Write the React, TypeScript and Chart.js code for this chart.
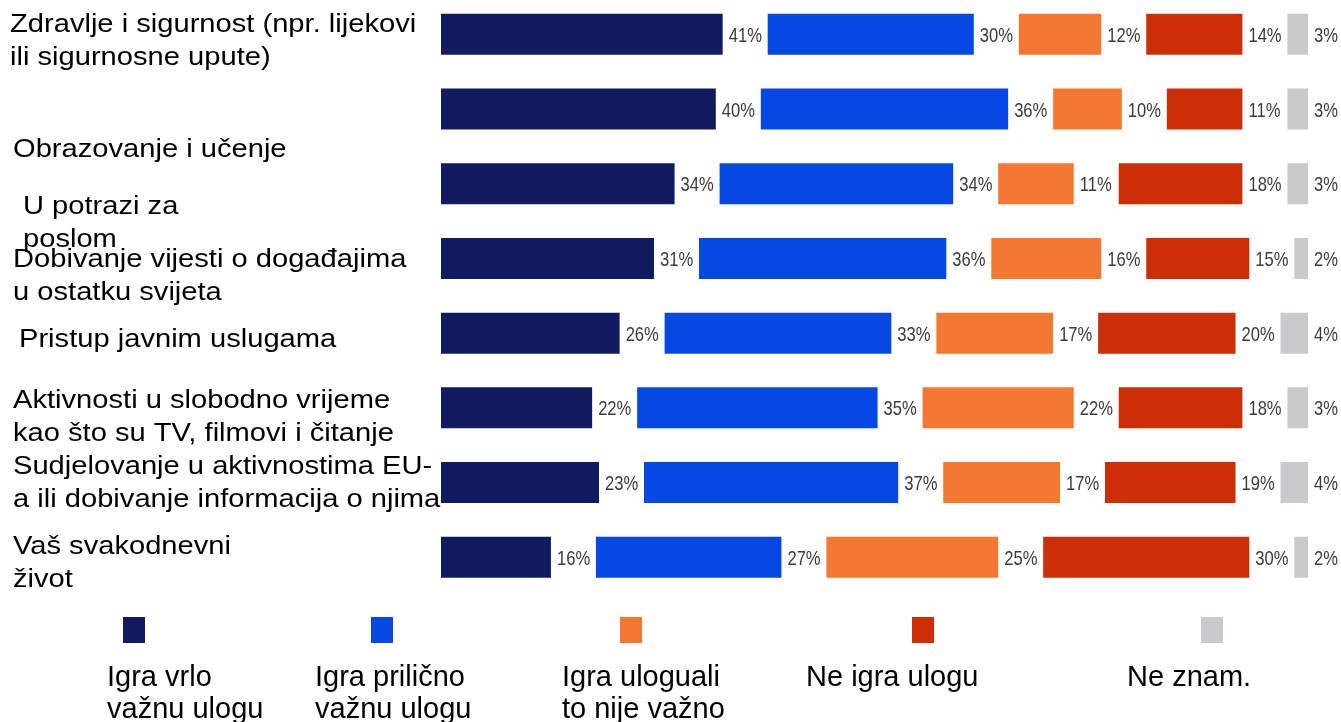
import React, { useEffect, useRef } from "react";
import { Chart, registerables } from "chart.js";

Chart.register(...registerables);

const categories: string[][] = [
  ["Zdravlje i sigurnost (npr. lijekovi", "ili sigurnosne upute)"],
  ["Obrazovanje i učenje"],
  ["U potrazi za", "poslom"],
  ["Dobivanje vijesti o događajima", "u ostatku svijeta"],
  ["Pristup javnim uslugama"],
  ["Aktivnosti u slobodno vrijeme", "kao što su TV, filmovi i čitanje"],
  ["Sudjelovanje u aktivnostima EU-", "a ili dobivanje informacija o njima"],
  ["Vaš svakodnevni", "život"],
];

const vrloVazna = [41, 40, 34, 31, 26, 22, 23, 16];
const prilicnoVazna = [30, 36, 34, 36, 33, 35, 37, 27];
const nijeVazno = [12, 10, 11, 16, 17, 22, 17, 25];
const neIgra = [14, 11, 18, 15, 20, 18, 19, 30];
const neZnam = [3, 3, 3, 2, 4, 3, 4, 2];

const seriesNames: string[][] = [
  ["Igra vrlo", "važnu ulogu"],
  ["Igra prilično", "važnu ulogu"],
  ["Igra uloguali", "to nije važno"],
  ["Ne igra ulogu"],
  ["Ne znam."],
];

// styling / layout (not data)
const COLORS = ["#111c60", "#0848e2", "#f47832", "#cc2e07", "#c9cacc"];
const GAP = 6.55; // spacer between segments (in axis units) where value labels sit
const SHIFT = 3; // canvas is placed 3px above the page top
const LABEL_X = [10, 13, 23, 13, 19, 13, 13, 13];
const LABEL_DY = [-2, 48, 30, 9, 14, 0, -9, -3];
const LEGEND_SQUARE_X = [123, 371, 620, 912, 1201];
const LEGEND_TEXT_X = [107, 315, 562, 806, 1127];

const decorPlugin = {
  id: "decor",
  afterDatasetsDraw(chart: any) {
    const ctx = chart.ctx as CanvasRenderingContext2D;
    const yScale = chart.scales.y;
    ctx.save();
    // value labels
    ctx.fillStyle = "#3b3b3b";
    ctx.font = "21px 'Liberation Sans', Arial, sans-serif";
    ctx.textBaseline = "alphabetic";
    ctx.textAlign = "left";
    chart.data.datasets.forEach((ds: any, di: number) => {
      if (ds.spacer) return;
      const meta = chart.getDatasetMeta(di);
      meta.data.forEach((bar: any, i: number) => {
        const txt = ds.data[i] + "%";
        ctx.save();
        ctx.translate(bar.x + 6, bar.y + 7.5);
        ctx.scale(0.79, 1);
        ctx.fillText(txt, 0, 0);
        ctx.restore();
      });
    });
    // category labels
    ctx.fillStyle = "#000";
    ctx.font = "26px 'Liberation Sans', Arial, sans-serif";
    categories.forEach((lines, i) => {
      const base = yScale.getPixelForValue(i) + LABEL_DY[i];
      lines.forEach((line, li) => {
        ctx.save();
        ctx.translate(LABEL_X[i], base + li * 33);
        ctx.scale(1.12, 1);
        ctx.fillText(line, 0, 0);
        ctx.restore();
      });
    });
    // legend
    ctx.font = "29px 'Liberation Sans', Arial, sans-serif";
    seriesNames.forEach((lines, i) => {
      ctx.fillStyle = COLORS[i];
      ctx.fillRect(LEGEND_SQUARE_X[i], 617 + SHIFT, 22, 26);
      ctx.fillStyle = "#000";
      lines.forEach((line, li) => {
        ctx.fillText(line, LEGEND_TEXT_X[i], 686 + SHIFT + li * 32);
      });
    });
    ctx.restore();
  },
};

export default function App() {
  const ref = useRef<HTMLCanvasElement | null>(null);
  useEffect(() => {
    if (!ref.current) return;
    const series = [vrloVazna, prilicnoVazna, nijeVazno, neIgra, neZnam];
    const datasets: any[] = [];
    series.forEach((vals, si) => {
      datasets.push({
        label: seriesNames[si].join(" "),
        data: vals,
        backgroundColor: COLORS[si],
        borderWidth: 0,
        barPercentage: 0.549,
        categoryPercentage: 1,
      });
      if (si < series.length - 1) {
        datasets.push({
          label: "",
          spacer: true,
          data: vals.map(() => GAP),
          backgroundColor: "rgba(0,0,0,0)",
          borderWidth: 0,
          barPercentage: 0.549,
          categoryPercentage: 1,
        });
      }
    });
    const chart = new Chart(ref.current, {
      type: "bar",
      data: { labels: categories.map((c) => c.join(" ")), datasets },
      options: {
        indexAxis: "y",
        animation: false,
        responsive: false,
        devicePixelRatio: 1,
        layout: { padding: { left: 441, right: 0, top: 0, bottom: 127.4 } },
        scales: {
          x: { stacked: true, min: 0, max: 131, display: false },
          y: { stacked: true, display: false },
        },
        plugins: {
          legend: { display: false },
          tooltip: { enabled: false },
        },
      },
      plugins: [decorPlugin],
    } as any);
    return () => chart.destroy();
  }, []);
  return (
    <div style={{ position: "absolute", left: 0, top: -SHIFT, width: 1341, height: 725 }}>
      <canvas ref={ref} width={1341} height={725} style={{ width: 1341, height: 725 }} />
    </div>
  );
}
